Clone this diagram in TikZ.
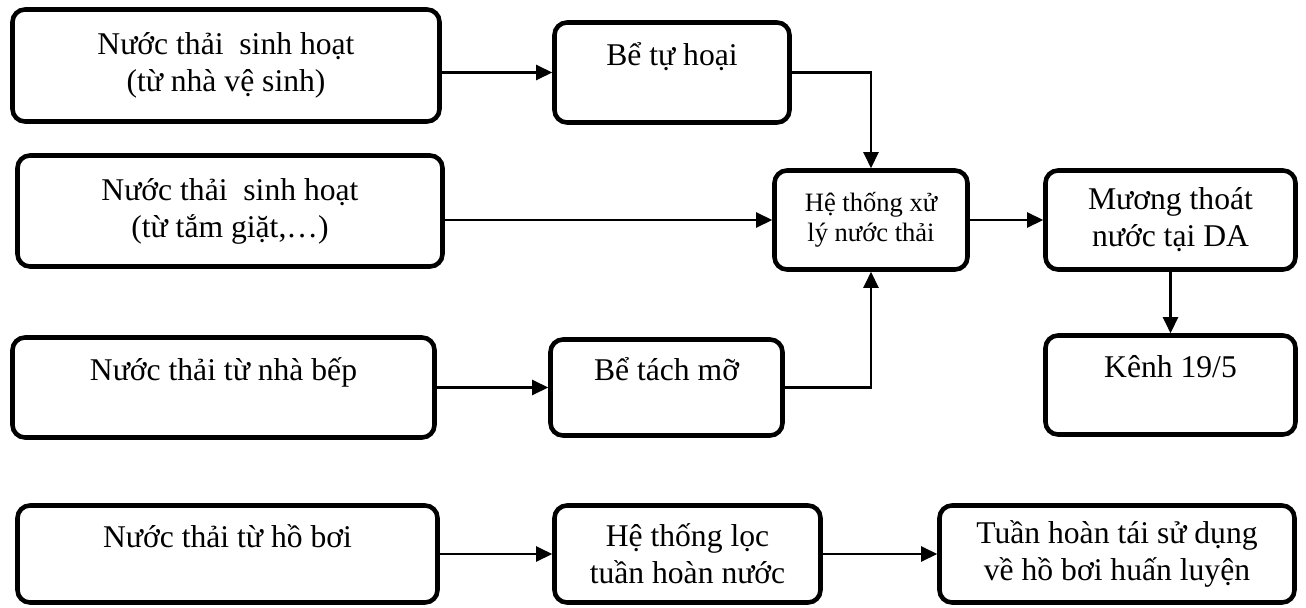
\documentclass[tikz,border=0pt]{standalone}
\usepackage{fontspec}
\setmainfont{Liberation Serif}
\usetikzlibrary{arrows.meta}

\begin{document}
\begin{tikzpicture}[
  box/.style={draw, line width=2.6pt, rounded corners=0.25cm, align=center, inner sep=0pt,
    font=\fontsize{18}{21}\selectfont},
  sbox/.style={box, font=\fontsize{15.1}{17}\selectfont},
  flow/.style={->, line width=1.3pt},
  >={Triangle[length=0.32cm, width=0.3cm]}
]

\useasboundingbox (0, 0) rectangle (26.12, 12.14);

\node[box, minimum width=8.54cm, minimum height=2.24cm] (wc) at (4.52, 10.83) {Nước thải~ sinh hoạt\\(từ nhà vệ sinh)};
\node[box, minimum width=8.50cm, minimum height=2.22cm] (giat) at (4.60, 7.92) {Nước thải~ sinh hoạt\\(từ tắm giặt,\dots)};
\node[box, minimum width=8.44cm, minimum height=2.00cm] (bep) at (4.47, 4.39) {Nước thải từ nhà bếp\\\mbox{}};

\node[box, minimum width=4.70cm, minimum height=2.00cm] (tuhoai) at (13.44, 10.69) {Bể tự hoại\\\mbox{}};
\node[box, minimum width=4.64cm, minimum height=1.92cm] (tachmo) at (13.33, 4.39) {Bể tách mỡ\\\mbox{}};

\node[sbox, minimum width=3.86cm, minimum height=1.98cm] (xuly) at (17.42, 7.74) {Hệ thống xử\\lý nước thải};
\node[box, minimum width=5.00cm, minimum height=1.98cm] (muong) at (23.41, 7.74) {Mương thoát\\nước tại DA};
\node[box, minimum width=5.00cm, minimum height=1.98cm] (kenh) at (23.41, 4.44) {Kênh 19/5\\\mbox{}};

\node[box, minimum width=8.40cm, minimum height=1.94cm] (hoboi) at (4.55, 1.06) {Nước thải từ hồ bơi\\\mbox{}};
\node[box, minimum width=5.32cm, minimum height=1.94cm] (loc) at (13.75, 1.06) {Hệ thống lọc\\tuần hoàn nước};
\node[box, minimum width=7.10cm, minimum height=1.94cm] (taisd) at (22.34, 1.06) {Tuần hoàn tái sử dụng\\về hồ bơi huấn luyện};

\draw[flow] (wc.east |- tuhoai.west) -- (tuhoai.west);
\draw[flow] (tuhoai.east) -| (xuly.north);
\draw[flow] (giat.east |- xuly.west) -- (xuly.west);
\draw[flow] (bep.east) -- (tachmo.west);
\draw[flow] (tachmo.east) -| (xuly.south);
\draw[flow] (xuly.east) -- (muong.west);
\draw[flow] (muong.south) -- (kenh.north);

\draw[flow] (hoboi.east) -- (loc.west);
\draw[flow] (loc.east) -- (taisd.west);

\end{tikzpicture}
\end{document}
